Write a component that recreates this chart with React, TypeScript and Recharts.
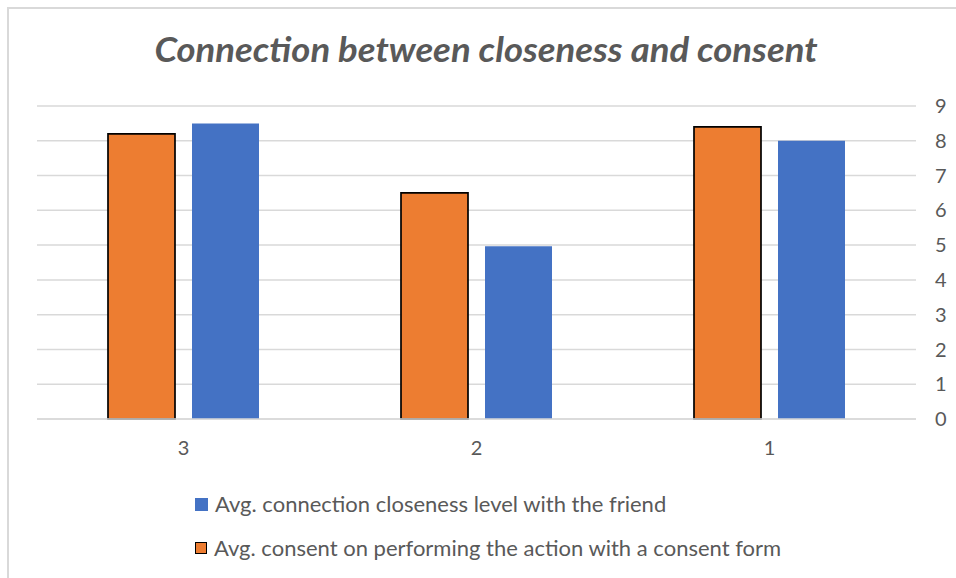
import { BarChart, Bar, XAxis, YAxis, CartesianGrid } from 'recharts'

const categories = ['3', '2', '1']
const consentWithForm = [8.2, 6.5, 8.4]
const closenessLevel = [8.5, 4.97, 8.0]
const yTicks = [0, 1, 2, 3, 4, 5, 6, 7, 8, 9]

const ORANGE = '#ED7D31'
const BLUE = '#4472C4'
const TEXT = '#595959'
const GRID = '#d9d9d9'
const FONT = 'Lato, "Open Sans", sans-serif'

const data = categories.map((name, i) => ({
    name,
    consent: consentWithForm[i],
    closeness: closenessLevel[i],
}))

export default function App() {
    return (
        <div style={{ position: 'absolute', left: 0, top: 0, width: 956, height: 578, background: '#fff', overflow: 'hidden', fontFamily: FONT }}>
            {/* chart frame, only left and top edges fall inside the view */}
            <div style={{ position: 'absolute', left: 7, top: 7, width: 960, height: 580, borderLeft: `2px solid ${GRID}`, borderTop: `2px solid ${GRID}` }} />

            <svg width={956} height={90} style={{ position: 'absolute', left: 0, top: 0 }}>
                <text
                    x={486}
                    y={62}
                    textAnchor="middle"
                    fontFamily={FONT}
                    fontSize={35}
                    fontWeight={700}
                    fontStyle="italic"
                    fill={TEXT}
                    textLength={663}
                    lengthAdjust="spacingAndGlyphs"
                >
                    Connection between closeness and consent
                </text>
            </svg>

            <div style={{ position: 'absolute', left: 0, top: 0 }}>
                <BarChart
                    width={956}
                    height={578}
                    data={data}
                    margin={{ top: 106, right: 10, bottom: 129, left: 37 }}
                    barSize={67}
                    barGap={17}
                >
                    <CartesianGrid vertical={false} stroke={GRID} strokeWidth={1.5} />
                    <XAxis
                        dataKey="name"
                        height={30}
                        tickLine={false}
                        axisLine={{ stroke: GRID, strokeWidth: 1.5 }}
                        tick={{ fill: TEXT, fontSize: 20, fontFamily: FONT }}
                        tickMargin={16}
                    />
                    <YAxis
                        orientation="right"
                        width={30}
                        domain={[0, 9]}
                        ticks={yTicks}
                        interval={0}
                        tickLine={false}
                        axisLine={false}
                        tick={{ fill: TEXT, fontSize: 20, fontFamily: FONT, textAnchor: 'start' }}
                        tickMargin={13}
                    />
                    <Bar dataKey="consent" fill={ORANGE} stroke="#000" strokeWidth={1.7} isAnimationActive={false} />
                    <Bar dataKey="closeness" fill={BLUE} isAnimationActive={false} />
                </BarChart>
            </div>

            <div style={{ position: 'absolute', left: 195, top: 489, color: TEXT, fontSize: 22, fontFamily: FONT, lineHeight: '30px' }}>
                <div style={{ display: 'flex', alignItems: 'center' }}>
                    <span style={{ width: 13, height: 13, background: BLUE, marginRight: 7, display: 'inline-block' }} />
                    Avg. connection closeness level with the friend
                </div>
                <div style={{ display: 'flex', alignItems: 'center', marginTop: 14 }}>
                    <span style={{ width: 10, height: 10, background: ORANGE, border: '1.5px solid #000', marginRight: 7, display: 'inline-block' }} />
                    Avg. consent on performing the action with a consent form
                </div>
            </div>
        </div>
    )
}
